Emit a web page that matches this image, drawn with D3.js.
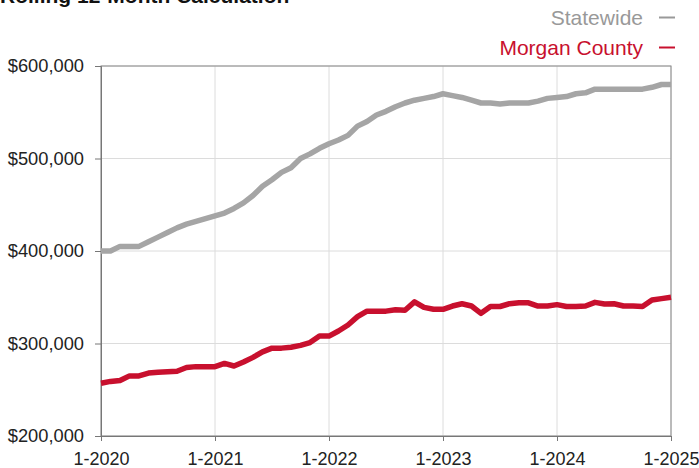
<!DOCTYPE html>
<html>
<meta charset="utf-8">
<title>Rolling 12-Month Calculation</title>
<style>
body { margin: 0; background: #fff; }
text { font-family: "Liberation Sans", Arial, sans-serif; }
</style>
<body>
<svg id="chart" width="699" height="468"></svg>
<script src="https://cdn.jsdelivr.net/npm/d3@7"></script>
<script>
// monthly points, 1-2020 .. 1-2025
var yearTicks = ["1-2020", "1-2021", "1-2022", "1-2023", "1-2024", "1-2025"];
var yTicks = [200000, 300000, 400000, 500000, 600000];

var statewide = [400000, 400000, 405000, 405000, 405000, 410000, 415000, 420000, 425000, 429000,
  432000, 435000, 438000, 441000, 446000, 452000, 460000, 470000, 477000, 485000,
  490000, 500000, 505000, 511000, 516000, 520000, 525000, 535000, 540000, 547000,
  551000, 556000, 560000, 563000, 565000, 567000, 570000, 568000, 566000, 563000,
  560000, 560000, 559000, 560000, 560000, 560000, 562000, 565000, 566000, 567000,
  570000, 571000, 575000, 575000, 575000, 575000, 575000, 575000, 577000, 580000, 580000];

var morgan = [257000, 259000, 260000, 265000, 265000, 268000, 269000, 269500, 270000, 274000,
  275000, 275000, 275000, 278500, 275700, 280000, 285000, 291000, 295000, 295000,
  296000, 298000, 301000, 308000, 308000, 313500, 320000, 329000, 335000, 335000,
  335000, 336500, 336000, 345000, 339000, 337000, 337000, 340500, 343000, 340500,
  332600, 340000, 340000, 343000, 344000, 344000, 340500, 340500, 342000, 340000,
  340000, 340500, 344500, 342700, 343000, 340500, 340500, 340000, 347000, 348500, 350000];

var seriesNames = ["Statewide", "Morgan County"];
var seriesColors = ["#a5a5a5", "#c8102e"];
var legendColors = ["#999999", "#c8102e"];

var svg = d3.select("#chart");
var plotLeft = 101, plotRight = 671, plotTop = 66, plotBottom = 436;

var x = d3.scaleLinear().domain([0, 60]).range([plotLeft, plotRight]);
var y = d3.scaleLinear().domain([200000, 600000]).range([plotBottom, plotTop]);

// title, cut off at the top of the picture
svg.append("text")
  .attr("x", 0).attr("y", 3)
  .style("font-size", "21px").style("font-weight", "bold")
  .attr("fill", "#111")
  .text("Rolling 12-Month Calculation");

// grid
svg.append("g").selectAll("line").data(yTicks).join("line")
  .attr("x1", plotLeft).attr("x2", plotRight)
  .attr("y1", function(d) { return y(d); }).attr("y2", function(d) { return y(d); })
  .attr("stroke", "#dcdcdc").attr("stroke-width", 1);
svg.append("g").selectAll("line").data(yearTicks).join("line")
  .attr("x1", function(d, i) { return x(i * 12); }).attr("x2", function(d, i) { return x(i * 12); })
  .attr("y1", plotTop).attr("y2", plotBottom)
  .attr("stroke", "#dcdcdc").attr("stroke-width", 1);

// frame
svg.append("rect")
  .attr("x", plotLeft).attr("y", plotTop)
  .attr("width", plotRight - plotLeft).attr("height", plotBottom - plotTop)
  .attr("fill", "none").attr("stroke", "#888").attr("stroke-width", 1);

// y axis
var yAxis = svg.append("g").attr("transform", "translate(" + plotLeft + ",0)")
  .call(d3.axisLeft(y).tickValues(yTicks).tickSize(6).tickPadding(11)
    .tickFormat(function(d) { return "$" + d3.format(",")(d); }));
yAxis.select(".domain").attr("stroke", "#777");
yAxis.selectAll(".tick line").attr("stroke", "#777");
yAxis.selectAll("text").style("font-size", "18.3px").attr("fill", "#222");

// x axis
var xAxis = svg.append("g").attr("transform", "translate(0," + plotBottom + ")")
  .call(d3.axisBottom(x).tickValues(d3.range(0, 61, 12)).tickSize(5).tickPadding(11)
    .tickFormat(function(d) { return yearTicks[d / 12]; }));
xAxis.select(".domain").attr("stroke", "#777");
xAxis.selectAll(".tick line").attr("stroke", "#777");
xAxis.selectAll("text").style("font-size", "18px").attr("fill", "#222");

// lines
var line = d3.line().x(function(d, i) { return x(i); }).y(function(d) { return y(d); });
[statewide, morgan].forEach(function(s, k) {
  svg.append("path").datum(s)
    .attr("d", line)
    .attr("fill", "none")
    .attr("stroke", seriesColors[k])
    .attr("stroke-width", 5.5)
    .attr("stroke-linejoin", "round");
});

// legend
var legend = svg.append("g").selectAll("g").data(seriesNames).join("g")
  .attr("transform", function(d, i) { return "translate(0," + (25 + i * 30) + ")"; });
legend.append("text")
  .attr("x", 643).attr("text-anchor", "end")
  .style("font-size", "21px")
  .attr("fill", function(d, i) { return legendColors[i]; })
  .text(function(d) { return d; });
legend.append("line")
  .attr("x1", 659).attr("x2", 675).attr("y1", -7.5).attr("y2", -7.5)
  .attr("stroke", function(d, i) { return legendColors[i]; })
  .attr("stroke-width", 2);
</script>
</body>
</html>
